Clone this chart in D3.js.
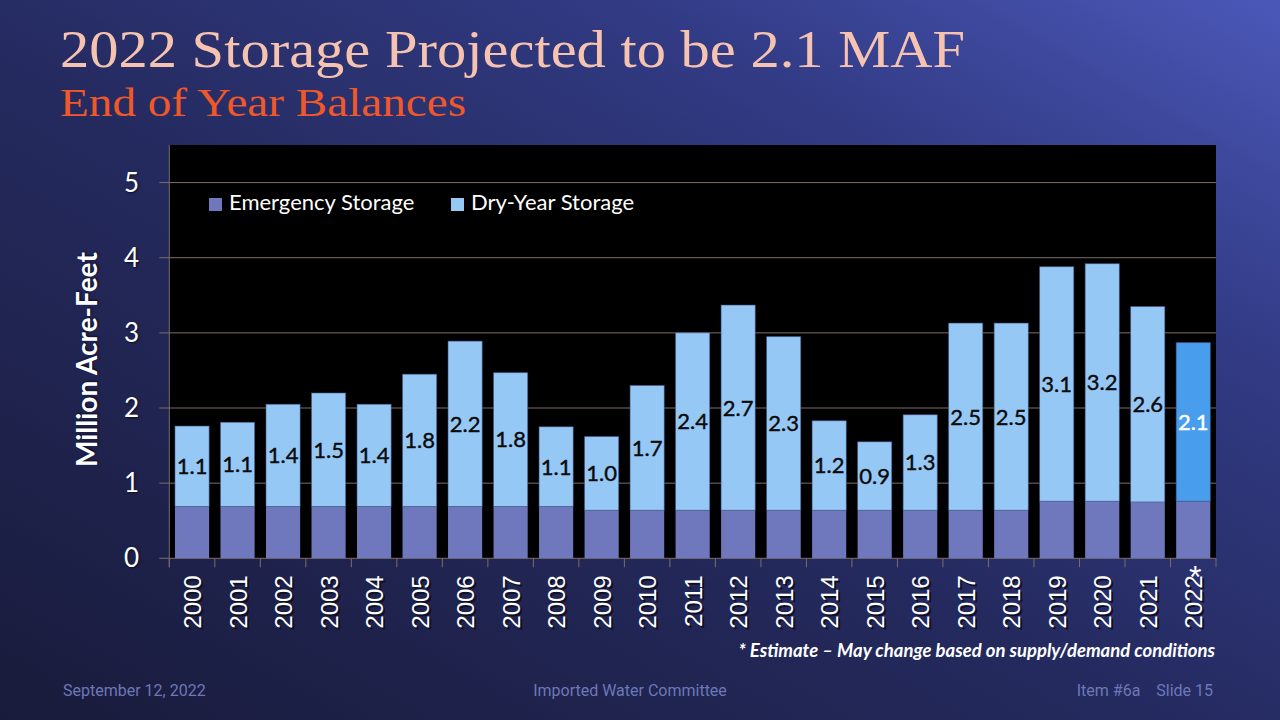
<!DOCTYPE html>
<html>
<head>
<meta charset="utf-8">
<script src="https://cdn.jsdelivr.net/npm/d3@7"></script>
<style>
  html, body { margin: 0; padding: 0; background: #1b1e42; }
  svg { display: block; }
</style>
</head>
<body>
<div id="chart"></div>
<script>
// end of year balances, million acre-feet
var years = ["2000", "2001", "2002", "2003", "2004", "2005", "2006", "2007", "2008", "2009", "2010", "2011",
             "2012", "2013", "2014", "2015", "2016", "2017", "2018", "2019", "2020", "2021", "2022"];
var emergency = [0.69, 0.69, 0.69, 0.69, 0.69, 0.69, 0.69, 0.69, 0.69, 0.64, 0.64, 0.64,
                 0.64, 0.64, 0.64, 0.64, 0.64, 0.64, 0.64, 0.76, 0.76, 0.75, 0.76];
var dryYear = [1.07, 1.12, 1.36, 1.51, 1.36, 1.76, 2.2, 1.78, 1.06, 0.98, 1.66, 2.36,
               2.73, 2.31, 1.19, 0.91, 1.27, 2.49, 2.49, 3.12, 3.16, 2.6, 2.11];
var yTicks = [0, 1, 2, 3, 4, 5];
var seriesNames = ["Emergency Storage", "Dry-Year Storage"];
var estimateYear = "2022";

(function() {

var width = 1280,
    height = 720;

var plotLeft = 169.3, plotRight = 1216, plotTop = 145, plotBottom = 558.3;

var svg = d3.select("#chart").append("svg")
    .attr("width", width)
    .attr("height", height);

// slide background
var defs = svg.append("defs");
var grad = defs.append("linearGradient")
    .attr("id", "bg")
    .attr("x1", 0).attr("y1", 1)
    .attr("x2", 1).attr("y2", 0);
grad.append("stop").attr("offset", "0%").attr("stop-color", "#191b3b");
grad.append("stop").attr("offset", "45%").attr("stop-color", "#242a5e");
grad.append("stop").attr("offset", "75%").attr("stop-color", "#323b85");
grad.append("stop").attr("offset", "100%").attr("stop-color", "#4b58b8");

svg.append("rect")
    .attr("width", width)
    .attr("height", height)
    .attr("fill", "url(#bg)");

// titles
svg.append("text")
    .attr("x", 60)
    .attr("y", 67)
    .attr("font-family", "Liberation Serif, serif")
    .attr("font-size", 52)
    .attr("fill", "#f6c3b1")
    .attr("textLength", 905)
    .attr("lengthAdjust", "spacingAndGlyphs")
    .text("2022 Storage Projected to be 2.1 MAF");

svg.append("text")
    .attr("x", 60)
    .attr("y", 116)
    .attr("font-family", "Liberation Serif, serif")
    .attr("font-size", 40)
    .attr("fill", "#f0582a")
    .attr("textLength", 406)
    .attr("lengthAdjust", "spacingAndGlyphs")
    .text("End of Year Balances");

var x = d3.scaleBand()
    .domain(years)
    .range([plotLeft, plotRight])
    .paddingInner(0.25)
    .paddingOuter(0.125);

var y = d3.scaleLinear()
    .domain([0, 5.5])
    .range([plotBottom, plotTop]);

// plot area
svg.append("rect")
    .attr("x", plotLeft)
    .attr("y", plotTop)
    .attr("width", plotRight - plotLeft)
    .attr("height", plotBottom - plotTop)
    .attr("fill", "#000");

var gridColor = "#7c6d66";

svg.append("g")
    .selectAll("line")
    .data(yTicks)
  .join("line")
    .attr("x1", plotLeft - 10)
    .attr("x2", plotRight)
    .attr("y1", function(d) { return y(d); })
    .attr("y2", function(d) { return y(d); })
    .attr("stroke", gridColor)
    .attr("stroke-width", 1);

svg.append("line")
    .attr("x1", plotLeft).attr("x2", plotLeft)
    .attr("y1", plotTop).attr("y2", plotBottom + 9)
    .attr("stroke", gridColor);

// x ticks at band edges
var edges = years.map(function(d) { return x(d) - x.step() * x.paddingInner() / 2; });
edges.push(plotRight);
svg.append("g")
    .selectAll("line")
    .data(edges)
  .join("line")
    .attr("x1", function(d) { return d; })
    .attr("x2", function(d) { return d; })
    .attr("y1", plotBottom)
    .attr("y2", plotBottom + 9)
    .attr("stroke", gridColor);

// bars
var rows = years.map(function(yr, i) {
    return { year: yr, em: emergency[i], dry: dryYear[i] };
});

var bars = svg.append("g");

bars.selectAll("rect.em")
    .data(rows)
  .join("rect")
    .attr("class", "em")
    .attr("x", function(d) { return x(d.year); })
    .attr("y", function(d) { return y(d.em); })
    .attr("width", x.bandwidth())
    .attr("height", function(d) { return y(0) - y(d.em); })
    .attr("fill", "#6f78bd");

bars.selectAll("rect.dry")
    .data(rows)
  .join("rect")
    .attr("class", "dry")
    .attr("x", function(d) { return x(d.year); })
    .attr("y", function(d) { return y(d.em + d.dry); })
    .attr("width", x.bandwidth())
    .attr("height", function(d) { return y(d.em) - y(d.em + d.dry); })
    .attr("fill", function(d) { return d.year == estimateYear ? "#489dec" : "#96c8f6"; })
    .attr("stroke", "rgba(70,90,140,0.7)")
    .attr("stroke-width", 0.8);

var fmt = d3.format(".1f");

bars.selectAll("text")
    .data(rows)
  .join("text")
    .attr("x", function(d) { return x(d.year) + x.bandwidth() / 2; })
    .attr("y", function(d) { return y(d.em + d.dry / 2); })
    .attr("dy", "0.36em")
    .attr("text-anchor", "middle")
    .attr("font-family", "Lato, sans-serif")
    .attr("font-size", 22)
    .attr("fill", function(d) { return d.year == estimateYear ? "#fff" : "#0a0a0a"; })
    .attr("stroke", function(d) { return d.year == estimateYear ? "#fff" : "#0a0a0a"; })
    .attr("stroke-width", 0.4)
    .text(function(d) { return fmt(d.dry); });

// y axis labels
svg.append("g")
    .selectAll("text")
    .data(yTicks)
  .join("text")
    .attr("x", 139)
    .attr("y", function(d) { return y(d); })
    .attr("dy", "0.35em")
    .attr("text-anchor", "end")
    .attr("font-family", "Lato, sans-serif")
    .attr("font-size", 26)
    .attr("fill", "#fff")
    .style("text-shadow", "1px 1px 2px #0c0e24")
    .text(function(d) { return d; });

svg.append("text")
    .attr("transform", "translate(97," + ((plotTop + plotBottom) / 2 + 8) + ") rotate(-90)")
    .attr("text-anchor", "middle")
    .attr("font-family", "Lato, sans-serif")
    .attr("font-weight", "bold")
    .attr("font-size", 28)
    .attr("fill", "#fff")
    .style("text-shadow", "1px 1px 2px #0c0e24")
    .text("Million Acre-Feet");

// x axis labels, with a dark shadow copy
var xl = svg.append("g");
[["#0d1026", 2], ["#fff", 0]].forEach(function(s) {
    xl.append("g")
        .selectAll("text")
        .data(years)
      .join("text")
        .attr("transform", function(d) {
            return "translate(" + (x(d) + x.bandwidth() / 2 + 9 + s[1]) + "," + (plotBottom + 17 + s[1]) + ") rotate(-90)";
        })
        .attr("text-anchor", "end")
        .attr("font-family", "Liberation Sans, Arial, sans-serif")
        .attr("font-size", 24)
        .attr("fill", s[0])
        .text(function(d) { return d; });
});

svg.append("text")
    .attr("x", x(estimateYear) + x.bandwidth() / 2 + 2)
    .attr("y", plotBottom + 30)
    .attr("text-anchor", "middle")
    .attr("font-family", "Liberation Sans, Arial, sans-serif")
    .attr("font-size", 32)
    .attr("fill", "#fff")
    .text("*");

// legend
var legendColors = ["#6f78bd", "#96c8f6"];
var legendX = [209, 451];
var legend = svg.append("g");
seriesNames.forEach(function(name, i) {
    legend.append("rect")
        .attr("x", legendX[i])
        .attr("y", 198)
        .attr("width", 13)
        .attr("height", 13)
        .attr("fill", legendColors[i]);
    legend.append("text")
        .attr("x", legendX[i] + 20)
        .attr("y", 210)
        .attr("font-family", "Lato, sans-serif")
        .attr("font-size", 22)
        .attr("fill", "#fff")
        .text(name);
});

// footnote
svg.append("text")
    .attr("x", 1215)
    .attr("y", 657)
    .attr("text-anchor", "end")
    .attr("font-family", "Lato, sans-serif")
    .attr("font-weight", "bold")
    .attr("font-style", "italic")
    .attr("font-size", 18.5)
    .attr("fill", "#fff")
    .text("* Estimate \u2013 May change based on supply/demand conditions");

// slide footer
var footer = [
    { text: "September 12, 2022", x: 63, anchor: "start" },
    { text: "Imported Water Committee", x: 630, anchor: "middle" },
    { text: "Item #6a    Slide 15", x: 1213, anchor: "end" }
];
svg.append("g")
    .selectAll("text")
    .data(footer)
  .join("text")
    .attr("x", function(d) { return d.x; })
    .attr("y", 696)
    .attr("text-anchor", function(d) { return d.anchor; })
    .attr("font-family", "Roboto, sans-serif")
    .attr("font-size", 16)
    .attr("fill", "#6d78b8")
    .style("white-space", "pre")
    .text(function(d) { return d.text; });

})();
</script>
</body>
</html>
